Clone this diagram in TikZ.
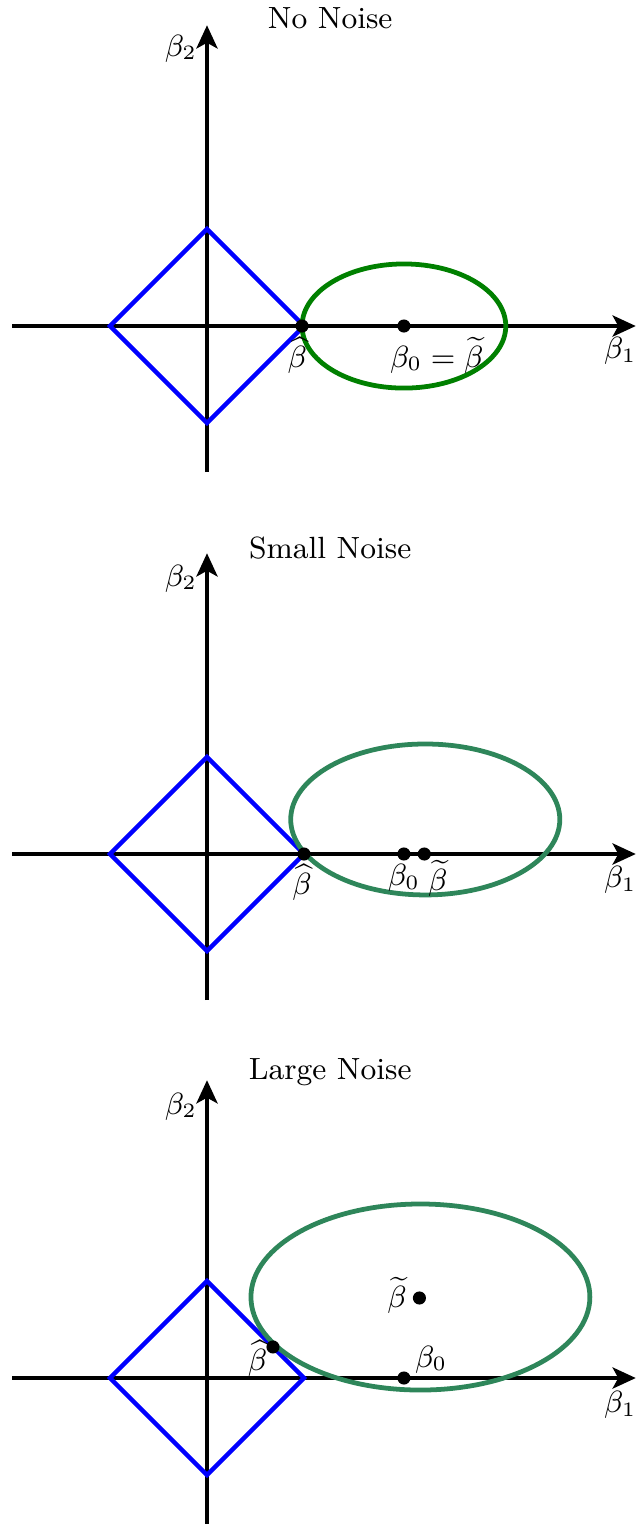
\documentclass[tikz,border=0pt]{standalone}
\usepackage{amssymb}
\usepackage{amsmath}
\usetikzlibrary{arrows.meta}
\definecolor{nngreen}{RGB}{0,128,0}
\definecolor{sgreen}{RGB}{46,134,90}

\begin{document}
\begin{tikzpicture}[font=\small,
  ax/.style={-{Stealth[length=2.4mm, width=2.2mm, inset=0.6mm]}, line width=0.9pt, draw=black},
  l1/.style={draw=blue, line width=1.3pt},
  lse/.style={line width=1.4pt},
  pt/.style={circle, fill=black, inner sep=0pt, minimum size=1.35mm},
  lb/.style={inner sep=1pt},
  ttl/.style={font=\small}]
  \useasboundingbox (-2.134,3.361) rectangle (4.443,-12.35);
  % no noise
  \begin{scope}
    \coordinate (xlA) at (-2.01,0); \coordinate (xrA) at (4.42,0);
    \coordinate (ybA) at (0,-1.505); \coordinate (ytA) at (0,3.10);
    \draw[ax] (xlA) -- (xrA);
    \draw[ax] (ybA) -- (ytA);
    \node[ttl] (tA) at (1.27,3.17) {No Noise};
    \node (b2A) at (-0.27,2.86) {$\beta_2$};
    \node (b1A) at (4.26,-0.26) {$\beta_1$};
    \draw[l1] (1,0) -- (0,1) -- (-1,0) -- (0,-1) -- cycle;
    \draw[lse, draw=nngreen] (2.03,0) ellipse [x radius=1.05, y radius=0.64];
    \node[pt] (hatA) at (0.98,0) {};
    \node[pt] (b0A) at (2.03,0) {};
    \node[lb] (lhatA) at (0.93,-0.30) {$\widehat{\beta}$};
    \node[lb] (lb0A) at (2.37,-0.30) {$\beta_0=\widetilde{\beta}$};
  \end{scope}
  % small noise
  \begin{scope}[yshift=-5.443cm]
    \coordinate (xlB) at (-2.01,0); \coordinate (xrB) at (4.42,0);
    \coordinate (ybB) at (0,-1.505); \coordinate (ytB) at (0,3.10);
    \draw[ax] (xlB) -- (xrB);
    \draw[ax] (ybB) -- (ytB);
    \node[ttl] (tB) at (1.27,3.155) {Small Noise};
    \node (b2B) at (-0.27,2.84) {$\beta_2$};
    \node (b1B) at (4.26,-0.27) {$\beta_1$};
    \draw[l1] (1,0) -- (0,1) -- (-1,0) -- (0,-1) -- cycle;
    \draw[lse, draw=sgreen] (2.25,0.356) ellipse [x radius=1.387, y radius=0.778];
    \node[pt] (hatB) at (1,0) {};
    \node[pt] (b0B) at (2.03,0) {};
    \node[pt] (tilB) at (2.24,0) {};
    \node[lb] (lhatB) at (0.98,-0.29) {$\widehat{\beta}$};
    \node[lb] (lb0B) at (2.03,-0.25) {$\beta_0$};
    \node[lb] (ltilB) at (2.38,-0.25) {$\widetilde{\beta}$};
  \end{scope}
  % large noise
  \begin{scope}[yshift=-10.845cm]
    \coordinate (xlC) at (-2.01,0); \coordinate (xrC) at (4.42,0);
    \coordinate (ybC) at (0,-1.505); \coordinate (ytC) at (0,3.07);
    \draw[ax] (xlC) -- (xrC);
    \draw[ax] (ybC) -- (ytC);
    \node[ttl] (tC) at (1.27,3.155) {Large Noise};
    \node (b2C) at (-0.27,2.80) {$\beta_2$};
    \node (b1C) at (4.26,-0.28) {$\beta_1$};
    \draw[l1] (1,0) -- (0,1) -- (-1,0) -- (0,-1) -- cycle;
    \draw[lse, draw=sgreen] (2.2,0.835) ellipse [x radius=1.747, y radius=0.959];
    \node[pt] (hatC) at (0.68,0.32) {};
    \node[pt] (tilC) at (2.19,0.825) {};
    \node[pt] (b0C) at (2.03,0) {};
    \node[lb] (lhatC) at (0.52,0.20) {$\widehat{\beta}$};
    \node[lb] (ltilC) at (1.96,0.85) {$\widetilde{\beta}$};
    \node[lb] (lb0C) at (2.31,0.19) {$\beta_0$};
  \end{scope}
\end{tikzpicture}
\end{document}
